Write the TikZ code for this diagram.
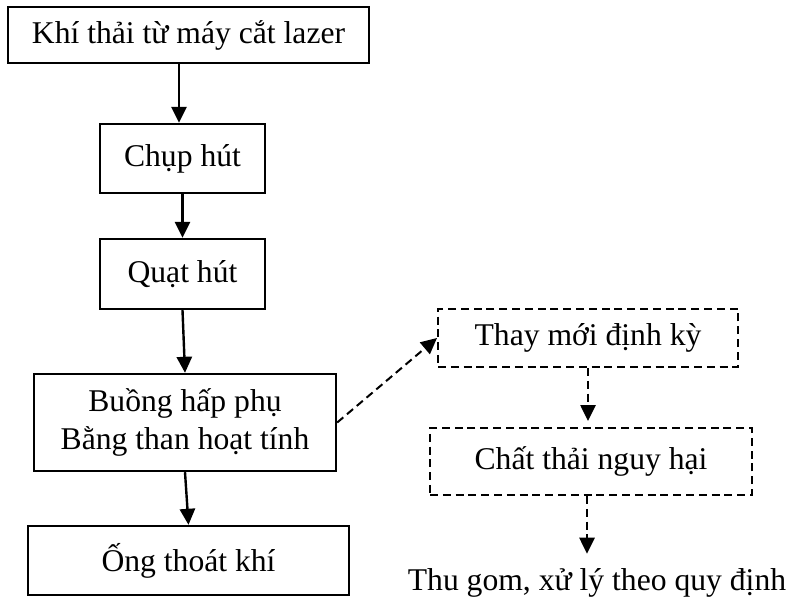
\documentclass[tikz,border=0pt]{standalone}
\usepackage{fontspec}
\setmainfont{Liberation Serif}
\usetikzlibrary{arrows.meta}
\tikzset{
  stagebox/.style={draw, line width=0.06cm, inner sep=0pt, align=center},
  dashbox/.style={stagebox, line width=0.05cm, dash pattern=on 0.2cm off 0.12cm},
  flowarrow/.style={line width=0.06cm, -{Triangle[width=0.38cm,length=0.4cm]}},
  dasharrow/.style={flowarrow, line width=0.05cm, dash pattern=on 0.2cm off 0.12cm}
}
\begin{document}
\begin{tikzpicture}
  \useasboundingbox (0,0) rectangle (19.725,15.2);
  {\fontsize{22.5}{27.5}\selectfont

  % Main line boxes
  \node [stagebox, minimum width=9.025cm, minimum height=1.4cm] (khi) at (4.7125,14.325) {Khí thải từ máy cắt lazer};
  \node [stagebox, minimum width=4.125cm, minimum height=1.725cm] (chup) at (4.5625,11.2375) {Chụp hút};
  \node [stagebox, minimum width=4.125cm, minimum height=1.75cm] (quat) at (4.5625,8.35) {Quạt hút};
  \node [stagebox, minimum width=7.55cm, minimum height=2.425cm] (buong) at (4.625,4.6375) {Buồng hấp phụ\\Bằng than hoạt tính};
  \node [stagebox, minimum width=8.025cm, minimum height=1.725cm] (ong) at (4.7125,1.1875) {Ống thoát khí};

  % Side line boxes
  \node [dashbox, minimum width=7.5cm, minimum height=1.45cm] (thay) at (14.7,6.75) {Thay mới định kỳ};
  \node [dashbox, minimum width=8.05cm, minimum height=1.675cm] (chat) at (14.775,3.6625) {Chất thải nguy hại};
  \node [anchor=base, inner sep=0pt] (thu) at (14.925,0.45) {Thu gom, xử lý theo quy định};

  % Drawing main flow
  \draw [flowarrow] (khi.south -| 4.475,0) -- (chup.north -| 4.475,0);
  \draw [flowarrow] (chup.south) -- (quat.north);
  \draw [flowarrow] (quat.south) -- (buong.north);
  \draw [flowarrow] (buong.south) -- (ong.north);

  % Drawing side flow
  \draw [dasharrow] (buong.east) -- (thay.west);
  \draw [dasharrow, shorten >=0.15cm] (thay.south) -- (chat.north -| thay.south);
  \draw [dasharrow, shorten >=0.35cm] (chat.south -| 14.675,0) -- (thu.north -| 14.675,0);
  }
\end{tikzpicture}
\end{document}
